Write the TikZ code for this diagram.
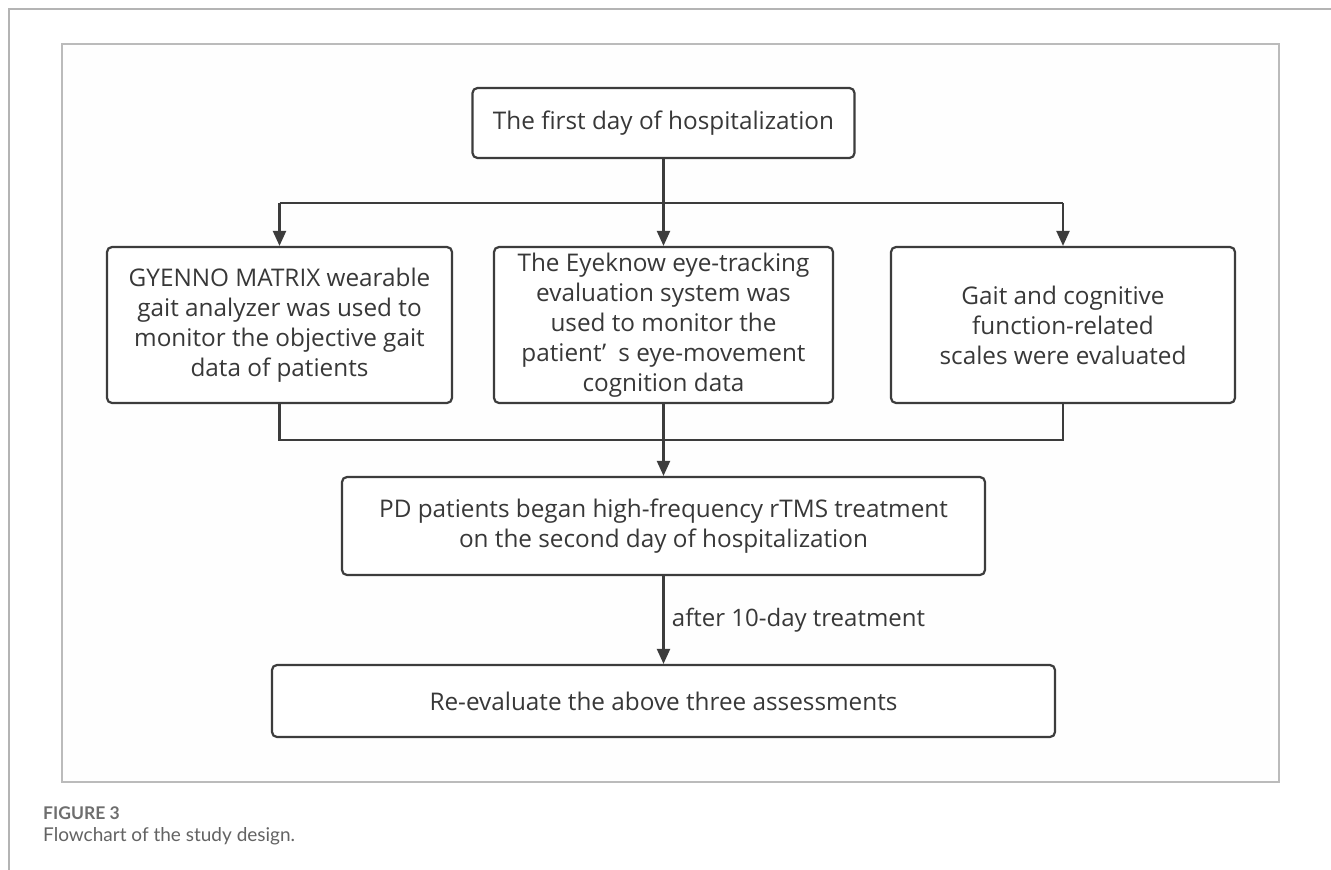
\documentclass[tikz,border=0pt]{standalone}
\usepackage{fontspec}
\setmainfont{Open Sans}
\newfontfamily\capfont{Lato}
\usetikzlibrary{arrows.meta}
\definecolor{boxline}{HTML}{3C3C3C}
\definecolor{txt}{HTML}{383838}
\definecolor{framec}{HTML}{B4B4B4}
\definecolor{capgray}{HTML}{6E6E6E}
\begin{document}
\begin{tikzpicture}[x=1pt,y=-1pt,
  flowbox/.style={draw=boxline, line width=2.2pt, rounded corners=5pt, fill=white,
    align=center, text=txt, font=\fontsize{24.3}{30}\selectfont, inner sep=0pt},
  conn/.style={draw=boxline, line width=2.2pt},
  arr/.style={conn, -{Triangle[length=15pt,width=13pt]}}]
\useasboundingbox (0,0) rectangle (1331,870);
\fill[white] (0,0) rectangle (1331,870);
% outer frame lines
\draw[framec, line width=1.8pt] (9,870) -- (9,9) -- (1331,9);
% inner frame
\draw[framec!90, line width=1.5pt, fill=gray!1] (62,44) rectangle (1279,782);

\node[flowbox, minimum width=382pt, minimum height=70pt] (top) at (663.5,123) {The first day of hospitalization};
\node[flowbox, minimum width=345pt, minimum height=156pt] (left) at (279.5,325)
  {GYENNO MATRIX wearable\\gait analyzer was used to\\monitor the objective gait\\data of patients};
\node[flowbox, minimum width=339pt, minimum height=156pt] (mid) at (663.5,325)
  {The Eyeknow eye-tracking\\evaluation system was\\used to monitor the\\patient’\hspace{0.5em}s eye-movement\\cognition data};
\node[flowbox, minimum width=344pt, minimum height=156pt] (right) at (1063,325)
  {Gait and cognitive\\function-related\\scales were evaluated};
\node[flowbox, minimum width=643pt, minimum height=98pt] (pd) at (663.5,526)
  {PD patients began high-frequency rTMS treatment\\on the second day of hospitalization};
\node[flowbox, minimum width=783pt, minimum height=72pt] (re) at (663.5,701)
  {Re-evaluate the above three assessments};

\coordinate (j) at (663.5,203);
\coordinate (b) at (663.5,440);
\draw[conn] (top.south) -- (j);
\draw[conn] (left.north |- j) -- (right.north |- j);
\draw[arr] (left.north |- j) -- (left.north);
\draw[arr] (j) -- (mid.north);
\draw[arr] (right.north |- j) -- (right.north);
\draw[conn] (left.south) -- (left.south |- b) -- (right.south |- b) -- (right.south);
\draw[arr] (mid.south) -- (pd.north);
\draw[arr] (pd.south) -- node[right, xshift=4pt, text=txt, font=\fontsize{24}{28}\selectfont] (lbl) {after 10-day treatment} (re.north);

\node[anchor=west, text=capgray, font=\capfont\bfseries\fontsize{17.5}{20}\selectfont, inner sep=0pt] (fig) at (43,813) {FIGURE 3};
\node[anchor=west, text=capgray!90!black, font=\capfont\fontsize{19}{22}\selectfont, inner sep=0pt] (cap) at (43,836) {Flowchart of the study design.};
\end{tikzpicture}
\end{document}
